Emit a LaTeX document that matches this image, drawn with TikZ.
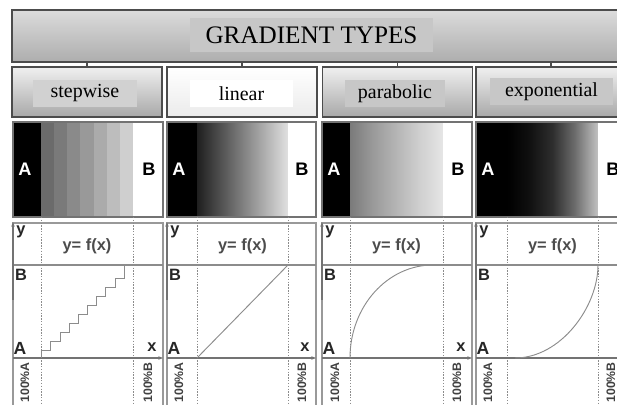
\documentclass[tikz,border=0pt]{standalone}
\usepackage{fontspec}
\setmainfont{Liberation Serif}
\setsansfont{Liberation Sans}
\usetikzlibrary{positioning,arrows.meta}

% shadings for the three continuous gradients
\pgfdeclarehorizontalshading{lingrad}{100bp}{color(0bp)=(black!88); color(25bp)=(black!88); color(75bp)=(black!12); color(100bp)=(black!12)}
\pgfdeclarehorizontalshading{pargrad}{100bp}{color(0bp)=(black!52); color(25bp)=(black!52); color(37bp)=(black!40); color(50bp)=(black!29); color(62bp)=(black!19); color(75bp)=(black!10); color(100bp)=(black!10)}
\pgfdeclarehorizontalshading{expgrad}{100bp}{color(0bp)=(black); color(25bp)=(black); color(37bp)=(black!94); color(50bp)=(black!82); color(62bp)=(black!58); color(75bp)=(black!24); color(100bp)=(black!24)}

\begin{document}
\begin{tikzpicture}[
  x=0.03cm, y=-0.03cm,
  font=\sffamily\bfseries,
  box/.style={rectangle, draw=black!70, line width=1.2pt, inner sep=0pt,
              minimum width=4.5cm, minimum height=1.5cm, top color=black!6, bottom color=black!34},
  lbl/.style={rectangle, inner sep=0pt, minimum width=3.1cm, minimum height=0.81cm, fill=black!18,
              font=\rmfamily\mdseries\fontsize{17}{20}\selectfont},
  tick/.style={draw=black!70, line width=1pt},
  gpanel/.style={draw=black!55, line width=1pt},
  fpanel/.style={draw=black!40, line width=1pt},
  gline/.style={draw=black!45, line width=0.9pt},
  axis/.style={draw=black!55, line width=0.9pt, -{Stealth[length=4pt,width=3pt]}},
  guide/.style={draw=black!45, line width=0.4pt, dash pattern=on 1.2pt off 1.2pt},
  curve/.style={draw=black!45, line width=0.8pt},
  ga/.style={inner sep=0pt, text=white, font=\sffamily\bfseries\fontsize{15.5}{18}\selectfont},
  gb/.style={ga, text=black},
  glet/.style={inner sep=0pt, text=black!85, font=\sffamily\bfseries\fontsize{14}{16}\selectfont},
  fx/.style={inner sep=0pt, text=black!70, font=\sffamily\bfseries\fontsize{14}{16}\selectfont},
  pct/.style={inner sep=0pt, text=black!75, rotate=90, anchor=east, font=\sffamily\bfseries\fontsize{10.5}{12}\selectfont}
]
\clip (0,0) rectangle (617,405);

% header
\node[box, minimum width=18.39cm, minimum height=1.56cm, top color=black!14, bottom color=black!32] (title) at (318.5,36) {};
\node[lbl, minimum width=7.29cm, minimum height=1.02cm, fill=black!22,
      font=\rmfamily\mdseries\fontsize{21.5}{24}\selectfont] (titlelbl) at (311.5,35) {GRADIENT TYPES};

\node[box] (sw)   at (87,92)    {};
\node[box, top color=white, bottom color=black!8] (lin) at (242,92) {};
\node[box] (par)  at (397.5,92) {};
\node[box] (expo) at (551,92)   {};

\node[lbl] (swl) at (85,93.5) {stepwise};
\node[lbl, fill=white] (linl) at (241.5,93.5) {linear};
\node[lbl, fill=black!22, minimum width=3cm] (parl) at (395,94) {parabolic};
\node[lbl, fill=black!22, minimum width=3.69cm] (expol) at (551.5,92) {exponential};

\draw[tick] (sw.north) -- (sw.north |- title.south);
\draw[tick] (lin.north) -- (lin.north |- title.south);
\draw[tick] (par.north) -- (par.north |- title.south);
\draw[tick] (expo.north) -- (expo.north |- title.south);

% gradient strips
\fill[black] (13,122) rectangle (41,217);
\fill[black!58] (41,122) rectangle (54.1,217);
\fill[black!52] (54.1,122) rectangle (67.3,217);
\fill[black!46] (67.3,122) rectangle (80.4,217);
\fill[black!40] (80.4,122) rectangle (93.6,217);
\fill[black!33] (93.6,122) rectangle (106.7,217);
\fill[black!26] (106.7,122) rectangle (119.9,217);
\fill[black!19] (119.9,122) rectangle (133,217);
\fill[white] (133,122) rectangle (163,217);
\draw[gpanel] (13,122) rectangle (163,217);

\fill[black] (167,122) rectangle (197,217);
\shade[shading=lingrad] (197,122) rectangle (288,217);
\fill[white] (288,122) rectangle (316,217);
\draw[gpanel] (167,122) rectangle (316,217);

\fill[black] (322,122) rectangle (350,217);
\shade[shading=pargrad] (350,122) rectangle (443,217);
\fill[white] (443,122) rectangle (472,217);
\draw[gpanel] (322,122) rectangle (472,217);

\fill[black] (476,122) rectangle (507,217);
\shade[shading=expgrad] (507,122) rectangle (598,217);
\fill[white] (598,122) rectangle (627,217);
\draw[gpanel] (476,122) rectangle (627,217);

\node[ga] (sA) at (25,169)  {A};  \node[gb] (sB) at (149,169) {B};
\node[ga] (lA) at (179,169) {A};  \node[gb] (lB) at (302,169) {B};
\node[ga] (pA) at (334,169) {A};  \node[gb] (pB) at (458,169) {B};
\node[ga] (eA) at (488,169) {A};  \node[gb] (eB) at (613,169) {B};

% function plots
\draw[fpanel] (13,223) rectangle (163,412);
\draw[fpanel] (167,223) rectangle (316,412);
\draw[fpanel] (322,223) rectangle (472,412);
\draw[fpanel] (476,223) rectangle (627,412);

\draw[guide] (41,217) -- (41,412);   \draw[guide] (133,217) -- (133,412);
\draw[guide] (197,217) -- (197,412); \draw[guide] (288,217) -- (288,412);
\draw[guide] (350,217) -- (350,412); \draw[guide] (443,217) -- (443,412);
\draw[guide] (507,217) -- (507,412); \draw[guide] (598,217) -- (598,412);

\draw[gline] (13,265) -- (163,265);
\draw[gline] (167,265) -- (316,265);
\draw[gline] (322,265) -- (472,265);
\draw[gline] (476,265) -- (627,265);

\draw[axis] (13,358) -- (163,358);   \draw[axis] (13,300) -- (13,222);
\draw[axis] (167,358) -- (316,358);  \draw[axis] (167,300) -- (167,222);
\draw[axis] (322,358) -- (472,358);  \draw[axis] (322,300) -- (322,222);
\draw[axis] (476,358) -- (627,358);  \draw[axis] (476,300) -- (476,222);

\draw[curve] (41,358) |- (50,350) |- (60,341) |- (69,332) |- (78,323) |- (87,314)
             |- (96,305) |- (105,296) |- (115,287) |- (124,278) -- (124,265);
\draw[curve] (197,358) -- (288,265);
\draw[curve] (350,358) .. controls (350,306.7) and (387.2,265) .. (433,265);
\draw[curve] (515,358) .. controls (560.8,358) and (598,306.7) .. (598,265);

\node[glet] (sy) at (21,232)  {y};  \node[fx] (sf) at (87,246)    {y= f(x)};
\node[glet] (ly) at (175,232) {y};  \node[fx] (lf) at (242.5,246) {y= f(x)};
\node[glet] (py) at (330,232) {y};  \node[fx] (pf) at (396.5,246) {y= f(x)};
\node[glet] (ey) at (484,232) {y};  \node[fx] (ef) at (552.5,246) {y= f(x)};

\node[glet] (sb) at (21,275)  {B};  \node[glet, font=\sffamily\bfseries\fontsize{15}{17}\selectfont] (sa) at (20,348)  {A};
\node[glet] (lb) at (175,275) {B};  \node[glet, font=\sffamily\bfseries\fontsize{15}{17}\selectfont] (la) at (174,348) {A};
\node[glet] (pb) at (330,275) {B};  \node[glet, font=\sffamily\bfseries\fontsize{15}{17}\selectfont] (pa) at (329,348) {A};
\node[glet] (eb) at (484,275) {B};  \node[glet, font=\sffamily\bfseries\fontsize{15}{17}\selectfont] (ea) at (483,348) {A};

\node[glet] (sx) at (152,347) {x};
\node[glet] (lx) at (305,347) {x};
\node[glet] (px) at (461,347) {x};

\node[pct] (s0) at (25,362)  {100\%A};  \node[pct] (s1) at (148,362) {100\%B};
\node[pct] (l0) at (179,362) {100\%A};  \node[pct] (l1) at (302,362) {100\%B};
\node[pct] (p0) at (335,362) {100\%A};  \node[pct] (p1) at (457,362) {100\%B};
\node[pct] (e0) at (488,362) {100\%A};  \node[pct] (e1) at (611,362) {100\%B};
\end{tikzpicture}
\end{document}
